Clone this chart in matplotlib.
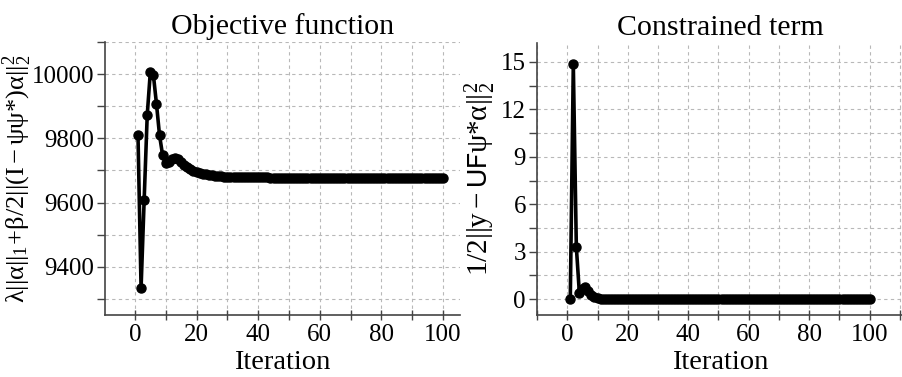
import numpy as np
import matplotlib
matplotlib.use("Agg")
import matplotlib.pyplot as plt
from matplotlib.ticker import MultipleLocator

plt.rcParams['font.family'] = ['Liberation Serif', 'DejaVu Serif']
plt.rcParams['mathtext.fontset'] = 'stix'
plt.rcParams['mathtext.default'] = 'regular'

# objective function, iterations 1..100
obj_values = [
    9810, 9334, 9608, 9873, 10006, 9997, 9907, 9809, 9747, 9724,
    9727, 9736, 9740, 9736, 9727, 9718, 9710, 9704, 9699, 9695,
    9692, 9690, 9688, 9686, 9685, 9684, 9683, 9682, 9681, 9681,
    9680, 9680, 9680, 9679, 9679, 9679, 9679, 9679, 9679, 9679,
    9679, 9679, 9679, 9678, 9678, 9678, 9678, 9678, 9678, 9678,
    9678, 9678, 9678, 9678, 9678, 9678, 9678, 9678, 9678, 9678,
    9678, 9678, 9678, 9678, 9678, 9678, 9678, 9678, 9678, 9678,
    9678, 9678, 9678, 9678, 9678, 9678, 9678, 9678, 9678, 9678,
    9678, 9678, 9678, 9678, 9678, 9678, 9678, 9678, 9678, 9678,
    9678, 9678, 9678, 9678, 9678, 9678, 9678, 9678, 9678, 9678,
]

# constrained term, iterations 1..100
con_values = [
    0.0, 14.85, 3.3, 0.4, 0.62, 0.78, 0.5, 0.25, 0.12, 0.06,
    0.04, 0.03, 0.02, 0.02, 0.01, 0.01, 0.01, 0.01, 0.01, 0.01,
    0.0, 0.0, 0.0, 0.0, 0.0, 0.0, 0.0, 0.0, 0.0, 0.0,
    0.0, 0.0, 0.0, 0.0, 0.0, 0.0, 0.0, 0.0, 0.0, 0.0,
    0.0, 0.0, 0.0, 0.0, 0.0, 0.0, 0.0, 0.0, 0.0, 0.0,
    0.0, 0.0, 0.0, 0.0, 0.0, 0.0, 0.0, 0.0, 0.0, 0.0,
    0.0, 0.0, 0.0, 0.0, 0.0, 0.0, 0.0, 0.0, 0.0, 0.0,
    0.0, 0.0, 0.0, 0.0, 0.0, 0.0, 0.0, 0.0, 0.0, 0.0,
    0.0, 0.0, 0.0, 0.0, 0.0, 0.0, 0.0, 0.0, 0.0, 0.0,
    0.0, 0.0, 0.0, 0.0, 0.0, 0.0, 0.0, 0.0, 0.0, 0.0,
]

iterations = np.arange(1, len(obj_values) + 1)

fig = plt.figure(figsize=(9.03, 3.77), dpi=100)
ax1 = fig.add_axes([0.1163, 0.1645, 0.3931, 0.7241])
ax2 = fig.add_axes([0.5947, 0.1645, 0.4053, 0.7215])


def style_axis(ax, ymajor, yminor):
    ax.xaxis.set_major_locator(MultipleLocator(20))
    ax.xaxis.set_minor_locator(MultipleLocator(10))
    ax.yaxis.set_major_locator(MultipleLocator(ymajor))
    ax.yaxis.set_minor_locator(MultipleLocator(yminor))
    ax.grid(which='both', color='#b8b8b8', linestyle=(0, (3, 3)), linewidth=0.8)
    ax.set_axisbelow(True)
    for side in ('top', 'right'):
        ax.spines[side].set_visible(False)
    for side in ('left', 'bottom'):
        ax.spines[side].set_color('#444444')
        ax.spines[side].set_linewidth(1.2)
    ax.tick_params(axis='x', which='both', direction='inout', colors='#444444',
                   labelcolor='black', labelsize=18, length=7, width=1, pad=3)
    ax.tick_params(axis='y', which='both', direction='out', colors='#444444',
                   labelcolor='black', labelsize=18, length=6, width=1, pad=2)
    ax.set_xlabel('Iteration', fontsize=20.5, labelpad=3)


ax1.plot(iterations, obj_values, color='black', linewidth=2.6,
         marker='o', markersize=6.5)
ax1.set_xlim(-9.7, 105.5)
ax1.set_ylim(9250, 10100)
style_axis(ax1, 200, 100)
ax1.set_title('Objective function', fontsize=21.5, pad=6)
ax1.set_ylabel(r'$\lambda||\alpha||_1\!+\!\beta/2||(I-\psi\psi{*})\alpha||_2^2$',
               fontsize=19, labelpad=-2)

ax2.plot(iterations, con_values, color='black', linewidth=2.6,
         marker='o', markersize=6.5)
ax2.set_xlim(-10, 111)
ax2.set_ylim(-1, 16.2)
style_axis(ax2, 3, 1.5)
ax2.set_title('Constrained term', fontsize=21.5, pad=6)
ax2.set_ylabel(r'$1/2||y-\mathsf{UF}\psi{*}\alpha||_2^2$', fontsize=21, labelpad=2)

fig.savefig('out.png', dpi=100)
